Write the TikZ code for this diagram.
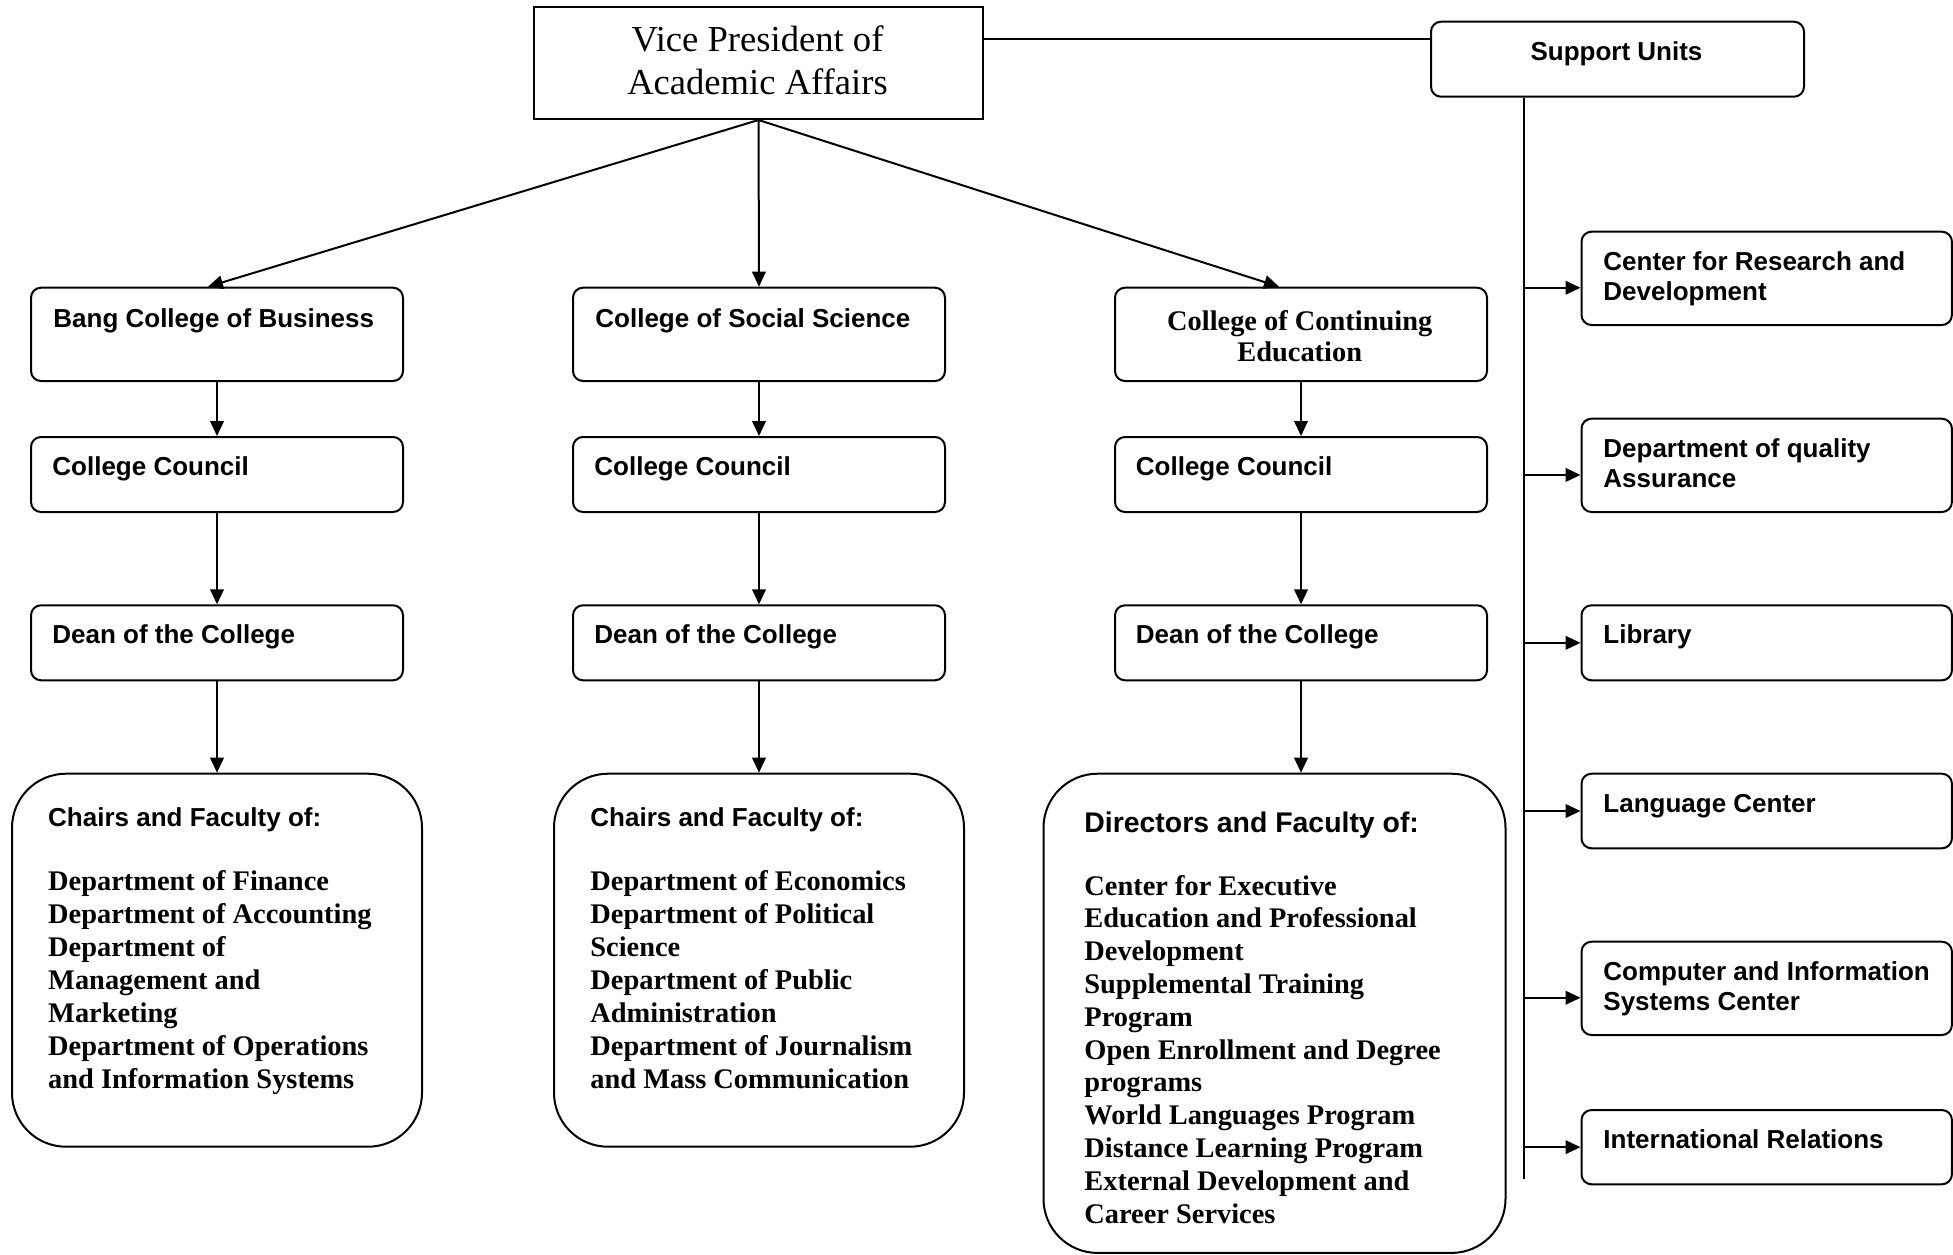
\documentclass[tikz,border=0pt]{standalone}
\usepackage{fontspec}
\setmainfont{Liberation Serif}
\newfontfamily\arialf{Liberation Sans}
\usetikzlibrary{arrows.meta}
\begin{document}
\begin{tikzpicture}[x=0.5pt,y=-0.5pt,
  ln/.style={line width=1pt},
  arr/.style={ln,-{Triangle[length=7.5pt,width=6.8pt]}},
  rbox/.style={draw,ln,rounded corners=5pt,inner sep=0pt,anchor=north west},
  bigbox/.style={draw,ln,rounded corners=27pt,inner sep=0pt,anchor=north west},
  sq/.style={draw,ln,inner sep=0pt,anchor=north west},
  sanst/.style={inner sep=0pt,anchor=base west,font=\arialf\bfseries\fontsize{13pt}{15pt}\selectfont},
  sansbig/.style={inner sep=0pt,anchor=base west,font=\arialf\bfseries\fontsize{14.2pt}{16.4pt}\selectfont},
  seriflist/.style={inner sep=0pt,anchor=base west,font=\bfseries\fontsize{14.2pt}{16.55pt}\selectfont},
]
\useasboundingbox (0,0) rectangle (1953,1254);

% ---- boxes ----
\node[sq,minimum width=224.5pt,minimum height=56pt] (vp) at (533,6) {};
\node[rbox,minimum width=186.5pt,minimum height=37.5pt] (su) at (1430,20.7) {};

\node[rbox,minimum width=186pt,minimum height=46.65pt] (bang) at (30,286.7) {};
\node[rbox,minimum width=186pt,minimum height=46.65pt] (soc) at (572,286.7) {};
\node[rbox,minimum width=186pt,minimum height=46.65pt] (cont) at (1114,286.7) {};

\node[rbox,minimum width=186pt,minimum height=37.5pt] (bcouncil) at (30,436) {};
\node[rbox,minimum width=186pt,minimum height=37.5pt] (scouncil) at (572,436) {};
\node[rbox,minimum width=186pt,minimum height=37.5pt] (ccouncil) at (1114,436) {};

\node[rbox,minimum width=186pt,minimum height=37.5pt] (bdean) at (30,604.3) {};
\node[rbox,minimum width=186pt,minimum height=37.5pt] (sdean) at (572,604.3) {};
\node[rbox,minimum width=186pt,minimum height=37.5pt] (cdean) at (1114,604.3) {};

\node[bigbox,minimum width=205pt,minimum height=186.5pt] (bchairs) at (11,772.7) {};
\node[bigbox,minimum width=205pt,minimum height=186.5pt] (schairs) at (553,772.7) {};
\node[bigbox,minimum width=231pt,minimum height=239.6pt] (dirs) at (1042.5,772.7) {};

\node[rbox,minimum width=185.2pt,minimum height=46.65pt] (crd) at (1580.5,230.7) {};
\node[rbox,minimum width=185.2pt,minimum height=46.65pt] (dqa) at (1580.5,417.7) {};
\node[rbox,minimum width=185.2pt,minimum height=37.5pt] (lib) at (1580.5,604.3) {};
\node[rbox,minimum width=185.2pt,minimum height=37.3pt] (lang) at (1580.5,772.7) {};
\node[rbox,minimum width=185.2pt,minimum height=46.65pt] (cis) at (1580.5,940.7) {};
\node[rbox,minimum width=185.2pt,minimum height=37.15pt] (intl) at (1580.5,1109) {};

% ---- texts ----
\node[inner sep=0pt,anchor=base,font=\fontsize{18.3pt}{21.5pt}\selectfont] (tvp) at (757.5,51)
  {\parbox[t]{220pt}{\centering Vice President of\\Academic Affairs}};
\node[inner sep=0pt,anchor=base,font=\arialf\bfseries\fontsize{13pt}{15pt}\selectfont] (tsu) at (1616.5,60) {Support Units};

\node[sanst] (tbang) at (53,327) {Bang College of Business};
\node[sanst] (tsoc) at (595,327) {College of Social Science};
\node[inner sep=0pt,anchor=base,font=\bfseries\fontsize{14.2pt}{15.65pt}\selectfont] (tcont) at (1299.7,330)
  {\parbox[t]{180pt}{\centering College of Continuing\\Education}};

\node[sanst] (tbc) at (52,475) {College Council};
\node[sanst] (tsc) at (594,475) {College Council};
\node[sanst] (tcc) at (1135.5,475) {College Council};
\node[sanst] (tbd) at (52,643.5) {Dean of the College};
\node[sanst] (tsd) at (594,643.5) {Dean of the College};
\node[sanst] (tcd) at (1135.5,643.5) {Dean of the College};

\node[sanst] (tbch) at (47.8,826) {Chairs and Faculty of:};
\node[seriflist] (tbl) at (47.8,890) {\parbox[t]{200pt}{\raggedright
  Department of Finance\\Department of Accounting\\Department of\\Management and\\Marketing\\Department of Operations\\and Information Systems}};
\node[sanst] (tsch) at (590,826) {Chairs and Faculty of:};
\node[seriflist] (tsl) at (590,890) {\parbox[t]{200pt}{\raggedright
  Department of Economics\\Department of Political\\Science\\Department of Public\\Administration\\Department of Journalism\\and Mass Communication}};
\node[sansbig] (tdh) at (1084,832) {Directors and Faculty of:};
\node[seriflist,font=\bfseries\fontsize{14.2pt}{16.4pt}\selectfont] (tdl) at (1084,895) {\parbox[t]{210pt}{\raggedright
  Center for Executive\\Education and Professional\\Development\\Supplemental Training\\Program\\Open Enrollment and Degree\\programs\\World Languages Program\\Distance Learning Program\\External Development and\\Career Services}};

\node[sanst] (tcrd) at (1603,270) {\parbox[t]{180pt}{\raggedright Center for Research and\\Development}};
\node[sanst] (tdqa) at (1603,457) {\parbox[t]{180pt}{\raggedright Department of quality\\Assurance}};
\node[sanst] (tlib) at (1603,643.5) {Library};
\node[sanst] (tlang) at (1603,812) {Language Center};
\node[sanst] (tcis) at (1603,980) {\parbox[t]{180pt}{\raggedright Computer and Information\\Systems Center}};
\node[sanst] (tintl) at (1603,1148) {International Relations};

% ---- connectors ----
\coordinate (linky) at (0,39);
\draw[ln] (vp.east |- linky) -- (su.west |- linky);

\coordinate (bangin) at ([xshift=-4.5pt]bang.north);
\coordinate (contin) at ([xshift=-11pt]cont.north);
\draw[arr] (vp.south) -- (bangin);
\draw[arr] (vp.south) -- (soc.north);
\draw[arr] (vp.south) -- (contin);

\draw[arr] (bang.south) -- (bcouncil.north);
\draw[arr] (soc.south) -- (scouncil.north);
\draw[arr] (cont.south) -- (ccouncil.north);
\draw[arr] (bcouncil.south) -- (bdean.north);
\draw[arr] (scouncil.south) -- (sdean.north);
\draw[arr] (ccouncil.south) -- (cdean.north);
\draw[arr] (bdean.south) -- (bdean.south |- bchairs.north);
\draw[arr] (sdean.south) -- (sdean.south |- schairs.north);
\draw[arr] (cdean.south) -- (cdean.south |- dirs.north);

\coordinate (trunkend) at (1524,1179);
\coordinate (crdin) at ([yshift=-4.7pt]crd.west);
\coordinate (dqain) at ([yshift=-4.8pt]dqa.west);
\coordinate (cisin) at ([yshift=-4.7pt]cis.west);
\draw[ln] (su.south -| trunkend) -- (trunkend);
\draw[arr] (trunkend |- crdin) -- (crdin);
\draw[arr] (trunkend |- dqain) -- (dqain);
\draw[arr] (trunkend |- lib.west) -- (lib.west);
\draw[arr] (trunkend |- lang.west) -- (lang.west);
\draw[arr] (trunkend |- cisin) -- (cisin);
\draw[arr] (trunkend |- intl.west) -- (intl.west);
\end{tikzpicture}
\end{document}
